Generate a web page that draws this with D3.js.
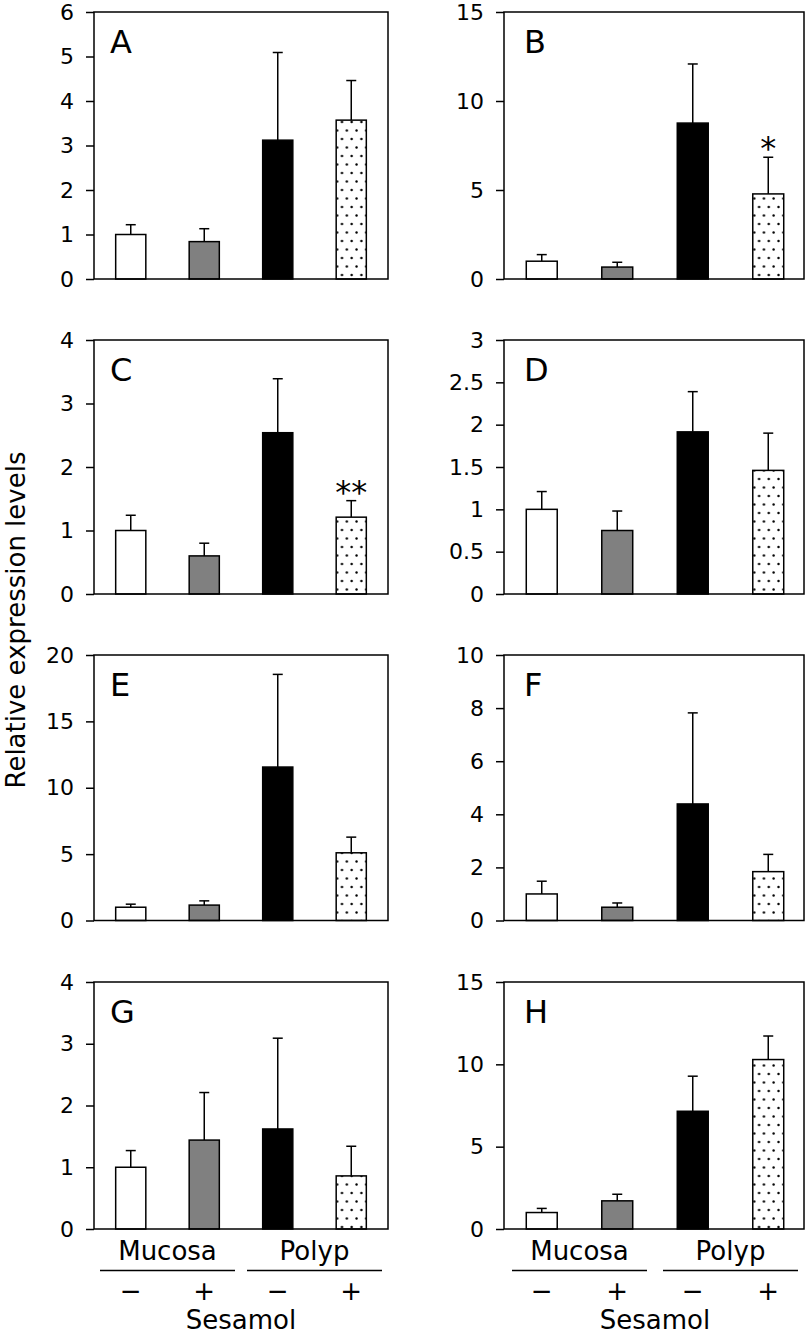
<!DOCTYPE html>
<html><head><meta charset="utf-8">
<script src="https://cdn.jsdelivr.net/npm/d3@7"></script>
<style>body{margin:0;background:#fff}text{font-family:"DejaVu Sans",Verdana,sans-serif;fill:#000}</style>
</head><body>
<svg id="chart" width="810" height="1335"></svg>
<script>
// ---------- data ----------
const panelLetters = ["A","B","C","D","E","F","G","H"];
const categories = ["Mucosa −","Mucosa +","Polyp −","Polyp +"];
const tissues = ["Mucosa","Polyp"];
const sesamolSigns = ["−","+","−","+"];
const yMaxima = [6,15,4,3,20,10,4,15];
const yTickSteps = [1,5,1,0.5,5,2,1,5];

const meansA = [1.0, 0.84, 3.12, 3.57];
const sdA    = [0.22, 0.29, 1.97, 0.89];
const meansB = [1.0, 0.67, 8.76, 4.78];
const sdB    = [0.37, 0.27, 3.32, 2.06];
const meansC = [1.0, 0.60, 2.54, 1.21];
const sdC    = [0.24, 0.20, 0.85, 0.26];
const meansD = [1.0, 0.75, 1.915, 1.46];
const sdD    = [0.21, 0.23, 0.475, 0.44];
const meansE = [1.0, 1.16, 11.56, 5.10];
const sdE    = [0.23, 0.32, 6.98, 1.18];
const meansF = [1.0, 0.50, 4.39, 1.84];
const sdF    = [0.48, 0.16, 3.43, 0.65];
const meansG = [1.0, 1.44, 1.62, 0.86];
const sdG    = [0.27, 0.77, 1.47, 0.48];
const meansH = [1.0, 1.71, 7.15, 10.29];
const sdH    = [0.25, 0.40, 2.13, 1.43];
// significance marks (panel, category, label)
const sigPanels = ["B","C"];
const sigCategory = ["Polyp +","Polyp +"];
const sigLabels = ["*","**"];

const yTitle = "Relative expression levels";
const xTitle = "Sesamol";

// ---------- layout / style ----------
const allMeans = [meansA,meansB,meansC,meansD,meansE,meansF,meansG,meansH];
const allSd = [sdA,sdB,sdC,sdD,sdE,sdF,sdG,sdH];
const fills = ["#ffffff","#808080","#000000","url(#dots)"];
const colFrame = [[94,388],[504,804]];
const colBars = [[94,388],[504,806]];
const rowY = [[12,279],[340,594],[655,920.5],[982,1229]];

const svg = d3.select("#chart");
const defs = svg.append("defs");
const pat = defs.append("pattern").attr("id","dots").attr("patternUnits","userSpaceOnUse")
  .attr("width",9.7).attr("height",17);
pat.append("rect").attr("width",9.7).attr("height",17).attr("fill","#fff");
pat.append("circle").attr("cx",2.5).attr("cy",3).attr("r",1.2).attr("fill","#000");
pat.append("circle").attr("cx",7.35).attr("cy",11.5).attr("r",1.2).attr("fill","#000");

panelLetters.forEach((letter, i) => {
  const col = i % 2, row = Math.floor(i / 2);
  const [fx0, fx1] = colFrame[col];
  const [top, bottom] = rowY[row];
  const x = d3.scaleBand().domain(categories).range(colBars[col])
    .paddingInner(0.59).paddingOuter(0.295);
  const y = d3.scaleLinear().domain([0, yMaxima[i]]).range([bottom, top]);
  const g = svg.append("g");

  const ticks = d3.range(0, yMaxima[i] + yTickSteps[i] / 2, yTickSteps[i]);
  const ax = g.append("g").attr("transform", `translate(${fx0},0)`)
    .call(d3.axisLeft(y).tickValues(ticks).tickSize(8).tickPadding(12)
      .tickFormat(d => String(+d.toFixed(2))));
  ax.select(".domain").remove();
  ax.selectAll(".tick line").attr("stroke","#000").attr("stroke-width",1.5);
  ax.selectAll(".tick text").attr("font-size",22).attr("font-family",'"DejaVu Sans",sans-serif').attr("fill","#000");

  const data = categories.map((c, k) => ({c, k, m: allMeans[i][k], s: allSd[i][k]}));

  // error bars
  const eb = g.selectAll(".eb").data(data).enter().append("g");
  eb.append("line")
    .attr("x1", d => x(d.c) + x.bandwidth()/2).attr("x2", d => x(d.c) + x.bandwidth()/2)
    .attr("y1", d => y(d.m)).attr("y2", d => y(d.m + d.s))
    .attr("stroke","#000").attr("stroke-width",1.5);
  eb.append("line")
    .attr("x1", d => x(d.c) + x.bandwidth()/2 - 5).attr("x2", d => x(d.c) + x.bandwidth()/2 + 5)
    .attr("y1", d => y(d.m + d.s)).attr("y2", d => y(d.m + d.s))
    .attr("stroke","#000").attr("stroke-width",1.5);

  // bars
  g.selectAll(".bar").data(data).enter().append("rect")
    .attr("x", d => x(d.c)).attr("width", x.bandwidth())
    .attr("y", d => y(d.m)).attr("height", d => y(0) - y(d.m))
    .attr("fill", d => fills[d.k]).attr("stroke","#000").attr("stroke-width",1.5);

  // frame
  g.append("rect").attr("x",fx0).attr("y",top).attr("width",fx1-fx0).attr("height",bottom-top)
    .attr("fill","none").attr("stroke","#000").attr("stroke-width",1.5);

  // panel letter
  g.append("text").attr("x", fx0 + (col ? 20 : 16)).attr("y", top + 41)
    .attr("font-size",32).text(letter);

  // significance
  sigPanels.forEach((p, j) => {
    if (p !== letter) return;
    const k = categories.indexOf(sigCategory[j]);
    g.append("text").attr("x", x(categories[k]) + x.bandwidth()/2)
      .attr("y", y(allMeans[i][k] + allSd[i][k]) + 2)
      .attr("text-anchor","middle").attr("font-size",32).text(sigLabels[j]);
  });

  // bottom group labels on last row
  if (row === 3) {
    tissues.forEach((t, ti) => {
      const c0 = x(categories[ti*2]) + x.bandwidth()/2;
      const c1 = x(categories[ti*2+1]) + x.bandwidth()/2;
      const cx = (c0 + c1) / 2;
      g.append("text").attr("x",cx).attr("y",1259.5).attr("text-anchor","middle")
        .attr("font-size",26).text(t);
      g.append("line").attr("x1",cx-67.5).attr("x2",cx+67.5).attr("y1",1270.5).attr("y2",1270.5)
        .attr("stroke","#000").attr("stroke-width",1.3);
    });
    categories.forEach((c, k) => {
      g.append("text").attr("x", x(c) + x.bandwidth()/2).attr("y",1300)
        .attr("text-anchor","middle").attr("font-size",26).text(sesamolSigns[k]);
    });
    const r = x.range();
    g.append("text").attr("x",(r[0]+r[1])/2).attr("y",1328.5).attr("text-anchor","middle")
      .attr("font-size",26).text(xTitle);
  }
});

svg.append("text").attr("transform","translate(25,620) rotate(-90)")
  .attr("text-anchor","middle").attr("font-size",26).text(yTitle);
</script>
</body></html>
